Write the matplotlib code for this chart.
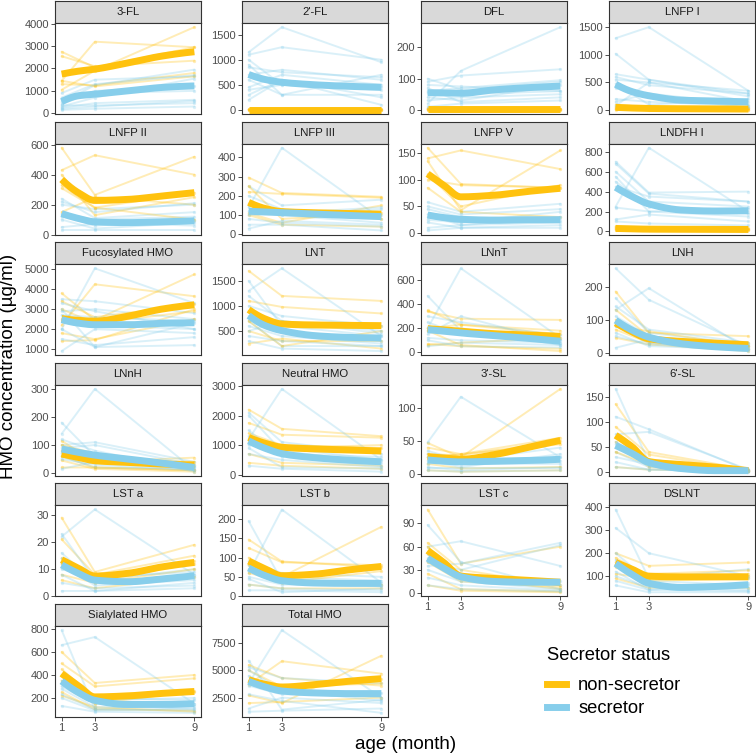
import numpy as np
import matplotlib
matplotlib.use("Agg")
import matplotlib.pyplot as plt
from matplotlib.lines import Line2D

plt.rcParams['font.family'] = ['Liberation Sans', 'DejaVu Sans']

# ---------------- data ----------------
ages = [1, 3, 9]
smooth_x = [1, 2, 3, 5, 7, 9]

panel_names = ["3-FL", "2'-FL", "DFL", "LNFP I",
               "LNFP II", "LNFP III", "LNFP V", "LNDFH I",
               "Fucosylated HMO", "LNT", "LNnT", "LNH",
               "LNnH", "Neutral HMO", "3'-SL", "6'-SL",
               "LST a", "LST b", "LST c", "DSLNT",
               "Sialylated HMO", "Total HMO"]

y_ticks = [[0, 1000, 2000, 3000, 4000], [0, 500, 1000, 1500], [0, 100, 200], [0, 500, 1000, 1500],
           [0, 200, 400, 600], [0, 100, 200, 300, 400], [0, 50, 100, 150], [0, 200, 400, 600, 800],
           [1000, 2000, 3000, 4000, 5000], [500, 1000, 1500], [0, 200, 400, 600], [0, 100, 200],
           [0, 100, 200, 300], [0, 1000, 2000, 3000], [0, 50, 100], [0, 50, 100, 150],
           [0, 10, 20, 30], [0, 50, 100, 150, 200], [0, 30, 60, 90], [100, 200, 300, 400],
           [200, 400, 600, 800], [2500, 5000, 7500]]

# smoothed group trends at smooth_x
non_smooth = [
    [1750, 1880, 1970, 2250, 2550, 2750],
    [5, 5, 5, 5, 5, 5],
    [2, 2, 2, 2, 2, 2],
    [50, 38, 30, 25, 22, 20],
    [368, 280, 228, 235, 257, 280],
    [166, 134, 118, 112, 108, 105],
    [111, 89, 68, 71, 78, 84],
    [30, 26, 23, 22, 21, 20],
    [2530, 2440, 2400, 2650, 3000, 3220],
    [927, 740, 640, 620, 613, 607],
    [197, 186, 175, 155, 144, 133],
    [90, 63, 42, 34, 29, 24],
    [68, 56, 44, 38, 32, 29],
    [1257, 1060, 926, 870, 834, 800],
    [26, 24, 22, 29, 40, 51],
    [73, 50, 21, 15, 10, 3],
    [13.5, 10.4, 7.5, 8.5, 10.8, 12.5],
    [91, 71, 53, 57, 68, 77],
    [55, 39, 22, 19, 16.5, 14],
    [160, 130, 100, 97, 97, 97],
    [412, 307, 209, 218, 239, 256],
    [4150, 3720, 3475, 3690, 4000, 4240],
]
sec_smooth = [
    [520, 780, 850, 1000, 1150, 1220],
    [705, 605, 550, 500, 470, 450],
    [55, 54, 53, 64, 71, 76],
    [467, 333, 260, 180, 165, 150],
    [140, 108, 85, 80, 85, 92],
    [120, 116, 113, 105, 98, 92],
    [34, 29, 26, 24, 25, 25],
    [443, 350, 276, 215, 205, 208],
    [2475, 2300, 2220, 2220, 2290, 2320],
    [807, 607, 507, 407, 373, 360],
    [189, 175, 161, 139, 117, 92],
    [98, 68, 47, 27, 18, 13],
    [86, 74, 64, 50, 36, 20],
    [1140, 890, 710, 570, 490, 435],
    [21, 19, 18, 19, 20, 22],
    [53, 37, 19, 7, 3, 3],
    [11.6, 8.5, 6, 5.4, 6.4, 7.6],
    [73, 53, 40, 34, 33, 33],
    [45, 32, 21, 15, 14, 14],
    [155, 107, 69, 51, 55, 63],
    [346, 248, 179, 143, 143, 149],
    [3990, 3480, 3110, 2930, 2870, 2870],
]

# individual mothers (values at 1, 3, 9 months)
non_lines = [
    [[2750, 2050, 2950], [2550, 2100, 2350], [1450, 3200, 2950], [1050, 1900, 3850], [1300, 1250, 1800], [1450, 1200, 1650]],
    [[5, 5, 5], [10, 3, 8], [3, 10, 3], [0, 0, 0], [8, 6, 10]],
    [[0, 0, 0], [3, 2, 4], [1, 5, 2], [5, 3, 3], [2, 0, 1]],
    [[60, 40, 30], [100, 50, 20], [20, 20, 10], [40, 30, 40], [10, 10, 5]],
    [[430, 530, 400], [580, 265, 520], [330, 180, 280], [400, 130, 250], [150, 250, 200], [310, 180, 100]],
    [[295, 215, 195], [220, 210, 190], [110, 60, 150], [100, 50, 40], [160, 120, 80], [250, 80, 110]],
    [[140, 155, 120], [160, 92, 85], [135, 43, 155], [85, 40, 30], [110, 50, 90], [100, 90, 85]],
    [[40, 30, 30], [20, 15, 20], [10, 10, 10], [30, 20, 25], [50, 25, 15]],
    [[2200, 4250, 3650], [3800, 2450, 4750], [1400, 1450, 3000], [1800, 1500, 2500], [3400, 2600, 3250], [3000, 2300, 2900]],
    [[1700, 1200, 1100], [1100, 980, 850], [900, 650, 600], [500, 300, 300], [250, 350, 150], [700, 200, 500]],
    [[350, 230, 180], [340, 280, 270], [70, 50, 30], [200, 230, 150], [180, 60, 10], [60, 80, 120]],
    [[185, 60, 50], [130, 50, 20], [70, 30, 10], [45, 25, 5], [100, 40, 30], [80, 65, 20]],
    [[115, 40, 55], [60, 20, 10], [45, 15, 5], [100, 70, 30], [80, 50, 40], [20, 20, 10]],
    [[2200, 1550, 1300], [1750, 1350, 1250], [1400, 1000, 900], [700, 400, 300], [400, 300, 200], [1100, 900, 1000]],
    [[47, 25, 130], [40, 30, 55], [25, 30, 45], [5, 3, 5], [15, 8, 10], [30, 28, 50]],
    [[135, 40, 5], [90, 35, 3], [60, 10, 2], [10, 5, 2], [70, 20, 5], [40, 15, 3]],
    [[29, 9, 19], [21, 8, 15], [14, 7, 13], [8, 5, 10], [6, 3, 7], [12, 6, 12]],
    [[147, 90, 75], [125, 88, 80], [100, 50, 180], [60, 40, 30], [30, 20, 20], [80, 35, 65]],
    [[108, 38, 60], [65, 30, 10], [60, 20, 5], [25, 5, 2], [10, 3, 1], [40, 15, 8]],
    [[200, 145, 160], [160, 110, 125], [110, 90, 100], [90, 50, 50], [140, 80, 90], [180, 100, 110]],
    [[600, 330, 400], [500, 300, 370], [450, 200, 250], [250, 100, 90], [220, 120, 80], [350, 150, 260]],
    [[3700, 5850, 4700], [5500, 4300, 3600], [2700, 2000, 6350], [2000, 2100, 2500], [4000, 3400, 4200], [5000, 3500, 3800]],
]
sec_lines = [
    [[900, 1500, 1650], [500, 1250, 1950], [300, 700, 1550], [250, 450, 600], [350, 350, 450], [150, 200, 300], [400, 1000, 1200], [600, 900, 1000], [200, 300, 550], [700, 1300, 1700]],
    [[1150, 1650, 950], [1100, 1250, 1000], [900, 300, 700], [850, 750, 650], [1000, 500, 450], [700, 800, 600], [600, 300, 300], [400, 500, 400], [200, 600, 250], [300, 600, 100], [450, 700, 500]],
    [[20, 125, 265], [100, 65, 90], [90, 110, 130], [60, 70, 95], [55, 50, 60], [40, 30, 80], [30, 40, 50], [70, 25, 40], [10, 20, 30], [80, 75, 60]],
    [[1300, 1500, 350], [1020, 550, 300], [650, 550, 250], [600, 450, 300], [480, 100, 200], [550, 500, 150], [200, 150, 80], [150, 300, 100], [400, 250, 50], [80, 500, 350]],
    [[240, 110, 150], [200, 170, 200], [130, 60, 100], [140, 100, 120], [100, 40, 80], [30, 30, 30], [220, 150, 210], [120, 80, 60], [50, 70, 90]],
    [[140, 450, 80], [250, 150, 180], [200, 130, 100], [120, 100, 60], [80, 60, 40], [50, 50, 20], [30, 70, 50], [150, 100, 130], [100, 110, 140]],
    [[58, 40, 55], [30, 20, 40], [20, 10, 15], [45, 30, 30], [10, 15, 20], [5, 10, 10], [25, 20, 25], [35, 15, 30], [50, 35, 45]],
    [[250, 840, 200], [700, 390, 400], [680, 380, 300], [600, 300, 250], [550, 200, 230], [500, 250, 180], [450, 350, 300], [120, 170, 100], [100, 80, 60], [240, 200, 150]],
    [[2000, 5050, 3300], [3500, 3400, 2800], [2900, 3000, 2500], [2500, 2200, 2000], [900, 2000, 1800], [3000, 1100, 2300], [2000, 1100, 1200], [1500, 1200, 1600], [2700, 2600, 2400], [3300, 2900, 2000]],
    [[1500, 600, 400], [1300, 1750, 400], [1000, 800, 600], [800, 500, 300], [700, 200, 200], [600, 400, 250], [300, 150, 100], [1200, 700, 500], [500, 700, 450], [400, 300, 200]],
    [[470, 180, 100], [200, 700, 120], [150, 300, 80], [180, 200, 60], [250, 150, 100], [100, 50, 40], [50, 80, 60], [300, 250, 140], [120, 100, 80]],
    [[255, 160, 20], [130, 195, 10], [165, 60, 25], [110, 50, 20], [15, 40, 10], [80, 30, 5], [60, 20, 10], [140, 70, 30], [50, 25, 15]],
    [[180, 60, 20], [140, 300, 10], [100, 110, 40], [90, 100, 30], [60, 20, 15], [15, 40, 20], [120, 80, 5], [50, 30, 10], [70, 50, 25]],
    [[2100, 1100, 700], [1200, 2900, 500], [2000, 800, 400], [1500, 600, 300], [900, 250, 200], [700, 500, 250], [300, 200, 100], [1000, 900, 500], [1300, 700, 600]],
    [[48, 118, 25], [20, 10, 30], [30, 25, 20], [10, 5, 10], [5, 3, 5], [15, 20, 40], [25, 15, 15], [35, 20, 25], [8, 8, 8]],
    [[165, 20, 5], [110, 85, 3], [75, 80, 5], [55, 20, 3], [40, 10, 2], [20, 5, 1], [30, 15, 4], [60, 25, 6], [10, 5, 2]],
    [[22, 32, 8], [23, 6, 10], [16, 5, 8], [12, 4, 6], [8, 2, 5], [5, 3, 4], [2, 2, 3], [10, 7, 9], [14, 5, 7]],
    [[195, 40, 30], [60, 225, 35], [90, 60, 50], [70, 50, 40], [45, 10, 20], [15, 15, 10], [50, 30, 30], [80, 45, 25], [30, 20, 15]],
    [[88, 40, 5], [60, 67, 35], [35, 38, 65], [45, 25, 10], [20, 10, 3], [30, 15, 5], [50, 20, 15], [10, 5, 2], [40, 30, 62]],
    [[390, 90, 130], [310, 200, 100], [200, 80, 60], [150, 60, 50], [100, 50, 40], [60, 30, 30], [120, 40, 70], [80, 40, 35], [170, 100, 90]],
    [[790, 100, 150], [660, 730, 150], [400, 200, 180], [300, 150, 100], [280, 120, 130], [130, 80, 70], [230, 100, 90], [350, 180, 200], [200, 90, 110]],
    [[5900, 1400, 2300], [3800, 8700, 2500], [5300, 4300, 3800], [4500, 3000, 2500], [1500, 2500, 2000], [1200, 1300, 1500], [3600, 2800, 2900], [5000, 3200, 2200], [2800, 2200, 1100]],
]

group_labels = ["non-secretor", "secretor"]
legend_title = "Secretor status"
ORANGE = "#FFC20E"
BLUE = "#87CEEB"


def pchip(x, y, xn):
    x = np.asarray(x, float); y = np.asarray(y, float)
    h = np.diff(x); d = np.diff(y) / h
    n = len(x); m = np.zeros(n)
    for k in range(1, n - 1):
        if d[k - 1] * d[k] > 0:
            w1 = 2 * h[k] + h[k - 1]; w2 = h[k] + 2 * h[k - 1]
            m[k] = (w1 + w2) / (w1 / d[k - 1] + w2 / d[k])
    def endslope(h0, h1, d0, d1):
        s = ((2 * h0 + h1) * d0 - h0 * d1) / (h0 + h1)
        if np.sign(s) != np.sign(d0):
            s = 0.0
        elif np.sign(d0) != np.sign(d1) and abs(s) > abs(3 * d0):
            s = 3 * d0
        return s
    m[0] = endslope(h[0], h[1], d[0], d[1])
    m[-1] = endslope(h[-1], h[-2], d[-1], d[-2])
    xn = np.asarray(xn, float)
    idx = np.clip(np.searchsorted(x, xn) - 1, 0, n - 2)
    t = (xn - x[idx]) / h[idx]
    h00 = 2 * t**3 - 3 * t**2 + 1; h10 = t**3 - 2 * t**2 + t
    h01 = -2 * t**3 + 3 * t**2; h11 = t**3 - t**2
    return h00 * y[idx] + h10 * h[idx] * m[idx] + h01 * y[idx + 1] + h11 * h[idx] * m[idx + 1]


W = H = 756.0
fig = plt.figure(figsize=(7.56, 7.56), dpi=100)

col_left = [55, 242, 421, 609]
panel_w = 146
row_period = 120.6
strip_h = 22
plot_h = 91
bottom_row = {0: 5, 1: 5, 2: 4, 3: 4}

xs = np.linspace(1, 9, 200)
for i, name in enumerate(panel_names):
    r, c = divmod(i, 4)
    top = 1 + row_period * r
    left = col_left[c]
    # strip
    sax = fig.add_axes([left / W, 1 - (top + strip_h) / H, panel_w / W, strip_h / H])
    sax.set_facecolor("#D9D9D9")
    sax.set_xticks([]); sax.set_yticks([])
    for sp in sax.spines.values():
        sp.set_color("#333333"); sp.set_linewidth(0.8)
    sax.text(0.5, 0.5, name, ha="center", va="center", fontsize=8.2, color="#1A1A1A",
             transform=sax.transAxes)
    # panel
    ax = fig.add_axes([left / W, 1 - (top + strip_h + plot_h) / H, panel_w / W, plot_h / H])
    allv = []
    lines_pair = [(non_lines[i], ORANGE), (sec_lines[i], BLUE)]
    for k in range(max(len(non_lines[i]), len(sec_lines[i]))):
        for grp, col in lines_pair:
            if k < len(grp):
                ax.plot(ages, grp[k], color=col, lw=1.4, alpha=0.3, marker="o", ms=2.4,
                        mew=0, solid_capstyle="round")
                allv += grp[k]
    ax.plot(xs, pchip(smooth_x, non_smooth[i], xs), color=ORANGE, lw=5, solid_capstyle="butt")
    ax.plot(xs, pchip(smooth_x, sec_smooth[i], xs), color=BLUE, lw=5, solid_capstyle="butt")
    allv += non_smooth[i] + sec_smooth[i]
    lo, hi = min(allv), max(allv)
    pad = 0.05 * (hi - lo)
    ax.set_ylim(lo - pad, hi + pad)
    ax.set_xlim(0.6, 9.4)
    ax.set_yticks(y_ticks[i])
    ax.set_yticklabels([str(v) for v in y_ticks[i]])
    if r == bottom_row[c]:
        ax.set_xticks(ages)
        ax.set_xticklabels([str(a) for a in ages])
    else:
        ax.set_xticks([])
    ax.tick_params(axis="both", length=2.7, width=0.6, color="#333333", labelsize=8,
                   labelcolor="#4D4D4D", pad=1.5)
    for sp in ax.spines.values():
        sp.set_color("#333333"); sp.set_linewidth(0.8)

fig.text(0.011, 0.515, "HMO concentration (µg/ml)", rotation=90, ha="center", va="center",
         fontsize=13.5, color="black")
fig.text(0.536, 0.0146, "age (month)", ha="center", va="center", fontsize=13.5, color="black")

fig.text(547 / W, 1 - 655 / H, legend_title, ha="left", va="center", fontsize=13.2, color="black")
handles = [Line2D([0], [0], color=ORANGE, lw=5), Line2D([0], [0], color=BLUE, lw=5)]
fig.legend(handles, group_labels, loc="upper left",
           bbox_to_anchor=(547 / W, 1 - 677 / H), frameon=False, fontsize=13.2,
           handlelength=1.05, handletextpad=0.65,
           labelspacing=0.33, borderpad=0, borderaxespad=0)

fig.savefig("out.png", dpi=100)
